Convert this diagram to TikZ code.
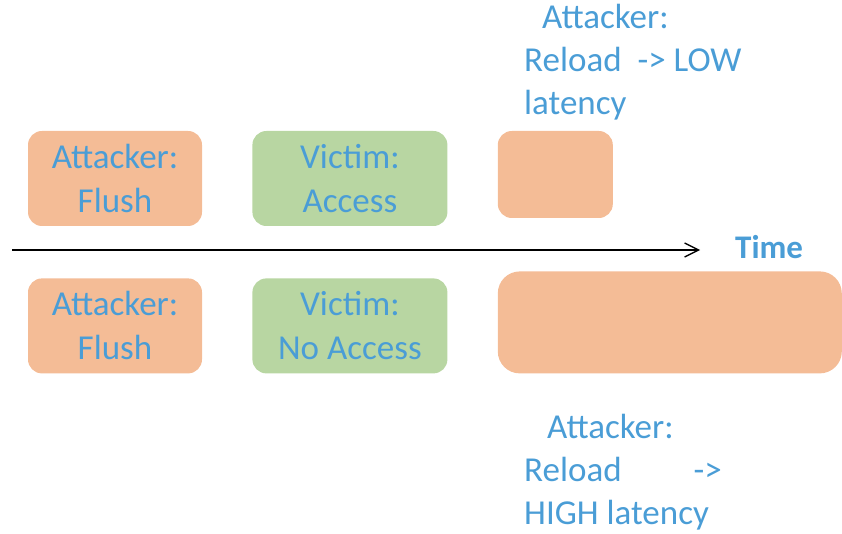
\documentclass[tikz,border=0pt]{standalone}
\usepackage{fontspec}
\setmainfont{Carlito}
\usetikzlibrary{arrows.meta,positioning}
\definecolor{attfill}{HTML}{F4BC96}
\definecolor{vicfill}{HTML}{B8D6A2}
\definecolor{labblue}{HTML}{4A9DD6}
\tikzset{
  attbox/.style={rounded corners=14pt, fill=attfill, align=center, text=labblue, inner sep=0pt, font=\fontsize{35}{44}\selectfont},
  vicbox/.style={rounded corners=14pt, fill=vicfill, align=center, text=labblue, inner sep=0pt, font=\fontsize{35}{44}\selectfont},
  note/.style={align=left, text=labblue, inner sep=0pt, anchor=base west, font=\fontsize{35}{43}\selectfont},
  timearrow/.style={-{Straight Barb[length=14pt,width=14pt]}, line width=1.3pt},
}

\begin{document}
\begin{tikzpicture}[x=1pt, y=-1pt, node distance=50pt and 50pt]
  \useasboundingbox (0,0) rectangle (842,534);

  % TOP ROW: victim accesses the line
  \node[attbox, minimum width=174pt, minimum height=95pt] (flushA) at (115,178.5) {Attacker:\\Flush};
  \node[vicbox, right=50pt of flushA, minimum width=195pt, minimum height=95pt] (access) {Victim:\\Access};
  \node[attbox, right=50pt of access.north east, anchor=north west, minimum width=115pt, minimum height=87pt] (reloadA) {};

  % TIME AXIS
  \coordinate (tstart) at (12,250);
  \coordinate (tend) at (700,250);
  \draw[timearrow] (tstart) -- (tend);
  \node[right=35pt of tend, anchor=west, inner sep=0pt, yshift=3pt, text=labblue, font=\fontsize{33}{36}\selectfont\bfseries] (timelbl) {Time};

  % BOTTOM ROW: victim does not access the line
  \node[attbox, below=52pt of flushA, minimum width=174pt, minimum height=95pt] (flushB) {Attacker:\\Flush};
  \node[vicbox, right=50pt of flushB, minimum width=195pt, minimum height=95pt] (noaccess) {Victim:\\No Access};
  \node[attbox, right=50pt of noaccess.south east, anchor=south west, minimum width=344pt, minimum height=102pt, rounded corners=22pt] (reloadB) {};

  % OUTCOMES
  \node[note] (lowlat) at (524,115) {\hspace{18pt}Attacker:\\Reload\hspace{16pt}-> LOW\\latency};
  \node[note] (highlat) at (524,524) {\hspace{23pt}Attacker:\\Reload\hspace{72pt}->\\HIGH latency};
\end{tikzpicture}
\end{document}
